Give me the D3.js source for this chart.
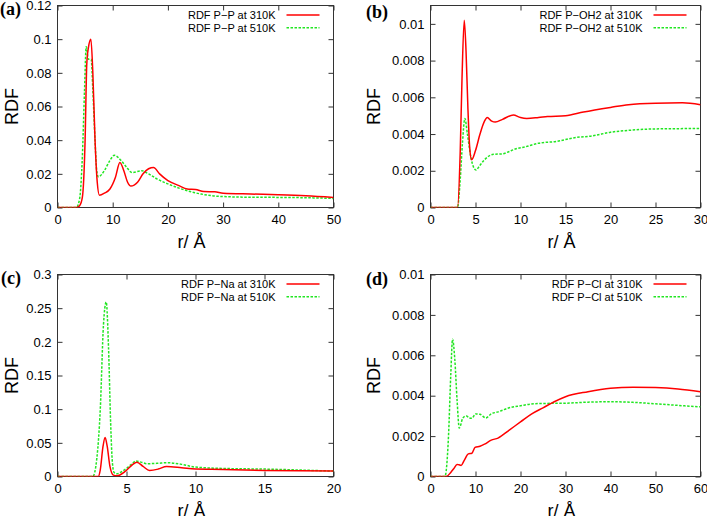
<!DOCTYPE html>
<html>
<head>
<meta charset="utf-8">
<script src="https://cdn.jsdelivr.net/npm/d3@7"></script>
<style>
  body { margin: 0; background: #fff; }
</style>
</head>
<body>
<div id="chart"></div>
<script>
// Canvas size
const width = 707;
const height = 516;

// (r, RDF) pairs
// (a) P-P
const pp310 = [[0,0],[3.5,0],[4.0,0.001],[4.5,0.006],[5.0,0.04],[5.3,0.085],[5.6,0.095],[6.05,0.1],[6.4,0.08],[6.8,0.04],[7.2,0.015],[7.6,0.0073],[8.5,0.0085],[9.5,0.011],[10.5,0.018],[11.3,0.0267],[12,0.022],[12.7,0.015],[13.3,0.0127],[14.5,0.015],[15.5,0.02],[16.5,0.023],[17.4,0.0238],[18.5,0.02],[20,0.016],[22,0.013],[23.5,0.011],[25,0.0107],[26.5,0.0095],[28.5,0.0093],[30,0.0085],[35,0.008],[40,0.0076],[45,0.007],[50,0.006]];
const pp510 = [[0,0],[3.4,0],[4.0,0.005],[4.5,0.03],[4.9,0.07],[5.2,0.0955],[5.6,0.088],[6.1,0.088],[6.4,0.07],[6.8,0.04],[7.1,0.022],[7.4,0.0182],[8.5,0.022],[9.5,0.028],[10.3,0.031],[11.5,0.028],[12.5,0.024],[13.5,0.0208],[15.3,0.0218],[16.5,0.02],[18,0.017],[20,0.014],[22,0.0115],[24,0.0095],[26,0.008],[28,0.007],[30,0.0065],[35,0.0061],[40,0.006],[45,0.0058],[50,0.0054]];
// (b) P-OH2
const ow310 = [[0,0],[3.0,0],[3.3,0.003],[3.5,0.007],[3.75,0.0102],[3.95,0.0085],[4.15,0.0055],[4.35,0.0033],[4.57,0.0026],[5,0.0031],[5.5,0.004],[6.0,0.0047],[6.3,0.0049],[6.8,0.0047],[7.2,0.00465],[8,0.0048],[9.2,0.00504],[10,0.0049],[10.7,0.00485],[12,0.0049],[13,0.00495],[15,0.005],[17,0.0052],[20,0.00545],[22,0.0056],[25,0.00568],[28,0.0057],[30,0.0056]];
const ow510 = [[0,0],[3.0,0],[3.3,0.0015],[3.55,0.0035],[3.82,0.00485],[4.1,0.004],[4.5,0.0027],[5.05,0.00204],[5.5,0.0023],[6,0.0026],[7,0.0029],[8,0.00292],[8.5,0.003],[9.5,0.0032],[10.5,0.0033],[12,0.0035],[14,0.0036],[16,0.0038],[18,0.0039],[20,0.0041],[22,0.0042],[25,0.00428],[30,0.0043]];
// (c) P-Na
const na310 = [[0,0],[2.95,0],[3.1,0.01],[3.3,0.045],[3.45,0.058],[3.6,0.045],[3.8,0.015],[4.05,0.002],[4.3,0.001],[4.9,0.0075],[5.4,0.017],[5.75,0.0213],[6.2,0.015],[6.67,0.0089],[7.3,0.011],[7.9,0.0149],[9,0.013],[10,0.011],[12,0.0105],[15,0.009],[20,0.008]];
const na510 = [[0,0],[2.56,0],[2.85,0.027],[3.1,0.1],[3.33,0.225],[3.53,0.259],[3.7,0.19],[3.85,0.08],[3.98,0.02],[4.1,0.006],[4.3,0.004],[4.7,0.008],[5.0,0.012],[5.4,0.019],[5.7,0.023],[6.1,0.021],[6.5,0.019],[7.2,0.0195],[8,0.0205],[9,0.018],[10,0.014],[12,0.012],[15,0.011],[20,0.008]];
// (d) P-Cl
const cl310 = [[0,0],[3.5,0],[4.5,0.0002],[5.2,0.0004],[5.9,0.0006],[6.3,0.00058],[6.8,0.00055],[7.5,0.0008],[8.4,0.00112],[9.2,0.00115],[9.9,0.00144],[11,0.0015],[12,0.0016],[13.5,0.0018],[15,0.0019],[17.5,0.0023],[20,0.0027],[22.5,0.0031],[25,0.0034],[27.5,0.0037],[30,0.00395],[35,0.0042],[40,0.00437],[45,0.00442],[50,0.0044],[55,0.00433],[60,0.0042]];
const cl510 = [[0,0],[3.2,0],[4.0,0.002],[4.5,0.005],[4.9,0.0068],[5.4,0.0058],[5.9,0.0038],[6.4,0.0024],[7.2,0.0029],[8,0.003],[8.6,0.0029],[9.2,0.00288],[10,0.0031],[11,0.00308],[12.3,0.0029],[13.5,0.0031],[15,0.0032],[17.5,0.0034],[20,0.0035],[23,0.0036],[26,0.00362],[30,0.00363],[35,0.00368],[40,0.0037],[45,0.00367],[50,0.0036],[55,0.00352],[60,0.00345]];

// Tick values
const ppXTicks = [0, 10, 20, 30, 40, 50];
const ppYTicks = [0, 0.02, 0.04, 0.06, 0.08, 0.1, 0.12];
const owXTicks = [0, 5, 10, 15, 20, 25, 30];
const owYTicks = [0, 0.002, 0.004, 0.006, 0.008, 0.01];
const naXTicks = [0, 5, 10, 15, 20];
const naYTicks = [0, 0.05, 0.1, 0.15, 0.2, 0.25, 0.3];
const clXTicks = [0, 10, 20, 30, 40, 50, 60];
const clYTicks = [0, 0.002, 0.004, 0.006, 0.008, 0.01];

// Series labels
const pairNames = ["P\u2212P", "P\u2212OH2", "P\u2212Na", "P\u2212Cl"];
const temps = ["310K", "510K"];
const tags = ["(a)", "(b)", "(c)", "(d)"];

// Panel layout
const panels = [
  { tag: tags[0], name: pairNames[0], s310: pp310, s510: pp510, xTicks: ppXTicks, yTicks: ppYTicks, xMax: 50, yMax: 0.12,
    left: 57.5, right: 333.5, top: 5.5, bottom: 207.5, tagX: 0, tagY: 15, ylabX: 12 },
  { tag: tags[1], name: pairNames[1], s310: ow310, s510: ow510, xTicks: owXTicks, yTicks: owYTicks, xMax: 30, yMax: 0.011,
    left: 430.5, right: 700.5, top: 5.5, bottom: 207.5, tagX: 366, tagY: 18, ylabX: 374 },
  { tag: tags[2], name: pairNames[2], s310: na310, s510: na510, xTicks: naXTicks, yTicks: naYTicks, xMax: 20, yMax: 0.3,
    left: 57.5, right: 333.5, top: 274.5, bottom: 476.5, tagX: 1, tagY: 284, ylabX: 12 },
  { tag: tags[3], name: pairNames[3], s310: cl310, s510: cl510, xTicks: clXTicks, yTicks: clYTicks, xMax: 60, yMax: 0.01,
    left: 430.5, right: 700.5, top: 274.5, bottom: 476.5, tagX: 366, tagY: 285, ylabX: 374 }
];

const red = "#ff0000";
const green = "#22e622";
const frameColor = "#333";
const fmt = d3.format("~g");

const svg = d3.select("#chart").append("svg")
    .attr("width", width)
    .attr("height", height)
    .style("font-family", "'Liberation Sans', Arial, sans-serif");

panels.forEach((p, i) => {
    const x = d3.scaleLinear().domain([0, p.xMax]).range([p.left, p.right]);
    const y = d3.scaleLinear().domain([0, p.yMax]).range([p.bottom, p.top]);
    const g = svg.append("g");

    // Clip the curves to the plot box
    g.append("clipPath").attr("id", "clip" + i)
      .append("rect")
        .attr("x", p.left).attr("y", p.top)
        .attr("width", p.right - p.left).attr("height", p.bottom - p.top);

    // Axes with inward ticks on all four sides
    const styleAxis = sel => {
        sel.select(".domain").remove();
        sel.selectAll(".tick line").attr("stroke", frameColor);
        sel.selectAll("text")
            .attr("fill", "#000")
            .style("font-size", "13px")
            .style("font-family", "'Liberation Sans', Arial, sans-serif");
    };
    g.append("g").attr("transform", `translate(0,${p.bottom})`)
        .call(d3.axisBottom(x).tickValues(p.xTicks).tickFormat(fmt).tickSize(-5).tickPadding(7))
        .call(styleAxis);
    g.append("g").attr("transform", `translate(0,${p.top})`)
        .call(d3.axisTop(x).tickValues(p.xTicks).tickFormat("").tickSize(-5))
        .call(styleAxis);
    g.append("g").attr("transform", `translate(${p.left},0)`)
        .call(d3.axisLeft(y).tickValues(p.yTicks).tickFormat(fmt).tickSize(-5).tickPadding(6))
        .call(styleAxis);
    g.append("g").attr("transform", `translate(${p.right},0)`)
        .call(d3.axisRight(y).tickValues(p.yTicks).tickFormat("").tickSize(-5))
        .call(styleAxis);

    // Frame
    g.append("rect")
        .attr("x", p.left).attr("y", p.top)
        .attr("width", p.right - p.left).attr("height", p.bottom - p.top)
        .attr("fill", "none")
        .attr("stroke", frameColor)
        .attr("shape-rendering", "crispEdges");

    // Curves
    const line = d3.line()
        .x(d => x(d[0]))
        .y(d => y(d[1]))
        .curve(d3.curveMonotoneX);

    const curves = g.append("g").attr("clip-path", `url(#clip${i})`);
    curves.append("path")
        .datum(p.s510)
        .attr("d", line)
        .attr("fill", "none")
        .attr("stroke", green)
        .attr("stroke-width", 1.5)
        .attr("stroke-dasharray", "2.5,1.5");
    curves.append("path")
        .datum(p.s310)
        .attr("d", line)
        .attr("fill", "none")
        .attr("stroke", red)
        .attr("stroke-width", 1.5);

    // Legend
    const legend = [
        { text: `RDF ${p.name} at ${temps[0]}`, color: red, dash: null },
        { text: `RDF ${p.name} at ${temps[1]}`, color: green, dash: "2.5,1.5" }
    ];
    legend.forEach((d, k) => {
        const ly = p.top + 9.5 + k * 12.7;
        g.append("text")
            .attr("x", p.right - 58)
            .attr("y", ly)
            .attr("dy", "0.35em")
            .attr("text-anchor", "end")
            .style("font-size", "11px")
            .text(d.text);
        g.append("line")
            .attr("x1", p.right - 47).attr("x2", p.right - 14)
            .attr("y1", ly).attr("y2", ly)
            .attr("stroke", d.color)
            .attr("stroke-width", 1.5)
            .attr("stroke-dasharray", d.dash);
    });

    // Axis titles
    g.append("text")
        .attr("x", (p.left + p.right) / 2 - 4)
        .attr("y", p.bottom + 40)
        .attr("text-anchor", "middle")
        .style("font-size", "18px")
        .text("r/ \u00c5");
    g.append("text")
        .attr("transform", `translate(${p.ylabX + 6},${(p.top + p.bottom) / 2}) rotate(-90)`)
        .attr("text-anchor", "middle")
        .style("font-size", "18px")
        .text("RDF");

    // Panel tag
    g.append("text")
        .attr("x", p.tagX)
        .attr("y", p.tagY)
        .style("font-family", "'Liberation Serif', 'Times New Roman', serif")
        .style("font-weight", "bold")
        .style("font-size", "18px")
        .text(p.tag);
});
</script>
</body>
</html>
